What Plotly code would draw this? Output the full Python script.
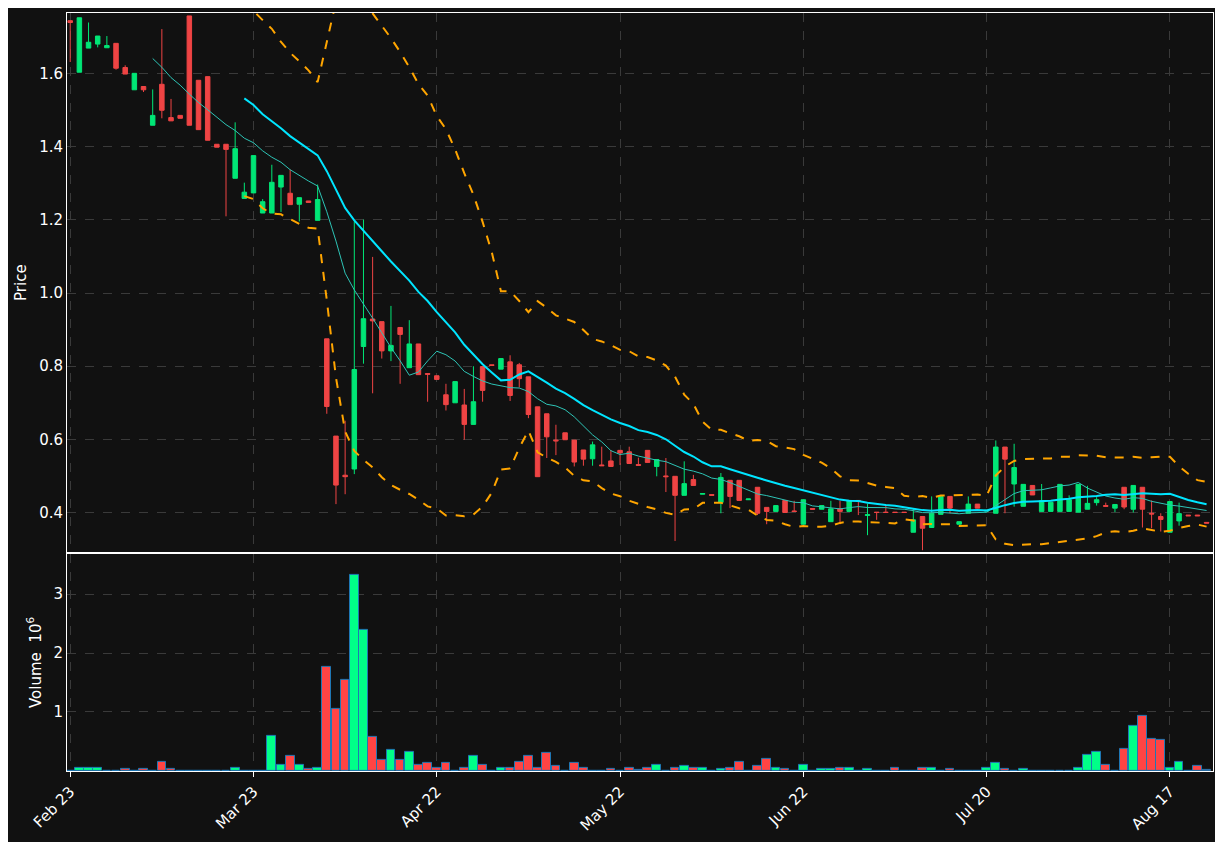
import pandas as pd
import plotly.graph_objects as go
from plotly.subplots import make_subplots

opens = [1.745, 1.604, 1.670, 1.681, 1.671, 1.683, 1.617, 1.556, 1.565, 1.459,
         1.571, 1.480, 1.486, 1.758, 1.582, 1.592, 1.407, 1.407, 1.314, 1.259,
         1.274, 1.219, 1.219, 1.290, 1.273, 1.243, 1.252, 1.199, 0.875, 0.609,
         0.502, 0.519, 0.854, 0.929, 0.922, 0.842, 0.906, 0.796, 0.861, 0.780,
         0.774, 0.722, 0.700, 0.694, 0.641, 0.799, 0.804, 0.792, 0.812, 0.804,
         0.771, 0.689, 0.670, 0.598, 0.618, 0.598, 0.571, 0.547, 0.530, 0.541,
         0.570, 0.566, 0.531, 0.570, 0.526, 0.500, 0.499, 0.447, 0.490, 0.450,
         0.449, 0.428, 0.488, 0.488, 0.435, 0.469, 0.414, 0.403, 0.433, 0.404,
         0.368, 0.411, 0.409, 0.375, 0.410, 0.403, 0.433, 0.392, 0.401, 0.401,
         0.401, 0.401, 0.346, 0.389, 0.359, 0.395, 0.444, 0.368, 0.398, 0.423,
         0.404, 0.398, 0.579, 0.478, 0.417, 0.474, 0.403, 0.403, 0.403, 0.403,
         0.401, 0.409, 0.427, 0.419, 0.412, 0.469, 0.409, 0.469, 0.398, 0.389,
         0.346, 0.377, 0.393, 0.393, 0.373]
highs = [1.745, 1.753, 1.740, 1.703, 1.703, 1.683, 1.623, 1.601, 1.565, 1.557,
         1.722, 1.531, 1.486, 1.758, 1.582, 1.592, 1.407, 1.407, 1.467, 1.302,
         1.376, 1.257, 1.351, 1.322, 1.338, 1.261, 1.252, 1.297, 0.875, 0.609,
         0.651, 1.196, 1.201, 1.099, 0.922, 0.965, 0.906, 0.926, 0.861, 0.780,
         0.774, 0.752, 0.758, 0.738, 0.800, 0.799, 0.804, 0.821, 0.830, 0.809,
         0.771, 0.689, 0.670, 0.640, 0.618, 0.598, 0.571, 0.594, 0.580, 0.571,
         0.570, 0.580, 0.550, 0.570, 0.545, 0.549, 0.499, 0.540, 0.503, 0.452,
         0.449, 0.508, 0.488, 0.488, 0.437, 0.469, 0.414, 0.419, 0.433, 0.432,
         0.435, 0.411, 0.419, 0.432, 0.432, 0.433, 0.433, 0.424, 0.401, 0.420,
         0.401, 0.401, 0.412, 0.389, 0.444, 0.444, 0.444, 0.375, 0.444, 0.423,
         0.406, 0.597, 0.579, 0.588, 0.477, 0.474, 0.478, 0.428, 0.477, 0.447,
         0.477, 0.473, 0.442, 0.427, 0.422, 0.469, 0.474, 0.469, 0.433, 0.398,
         0.430, 0.427, 0.393, 0.393, 0.373]
lows = [1.632, 1.604, 1.670, 1.672, 1.671, 1.611, 1.599, 1.556, 1.550, 1.459,
        1.478, 1.471, 1.478, 1.459, 1.447, 1.418, 1.399, 1.210, 1.314, 1.259,
        1.274, 1.219, 1.219, 1.222, 1.242, 1.196, 1.248, 1.199, 0.670, 0.423,
        0.450, 0.505, 0.807, 0.726, 0.821, 0.814, 0.752, 0.796, 0.777, 0.703,
        0.764, 0.679, 0.700, 0.599, 0.641, 0.703, 0.802, 0.792, 0.705, 0.742,
        0.658, 0.498, 0.549, 0.557, 0.599, 0.526, 0.528, 0.528, 0.528, 0.526,
        0.530, 0.534, 0.529, 0.537, 0.499, 0.456, 0.322, 0.447, 0.474, 0.450,
        0.447, 0.398, 0.412, 0.433, 0.435, 0.393, 0.368, 0.403, 0.400, 0.403,
        0.368, 0.409, 0.409, 0.375, 0.368, 0.403, 0.393, 0.338, 0.380, 0.400,
        0.400, 0.400, 0.346, 0.297, 0.359, 0.395, 0.398, 0.368, 0.398, 0.412,
        0.404, 0.398, 0.398, 0.416, 0.417, 0.448, 0.403, 0.403, 0.403, 0.403,
        0.401, 0.409, 0.419, 0.417, 0.401, 0.409, 0.400, 0.359, 0.357, 0.348,
        0.346, 0.364, 0.391, 0.391, 0.371]
closes = [1.740, 1.753, 1.686, 1.703, 1.677, 1.615, 1.599, 1.601, 1.556, 1.486,
          1.500, 1.471, 1.478, 1.459, 1.447, 1.418, 1.399, 1.393, 1.395, 1.276,
          1.376, 1.250, 1.303, 1.322, 1.242, 1.261, 1.248, 1.256, 0.690, 0.475,
          0.498, 0.791, 0.930, 0.924, 0.842, 0.857, 0.887, 0.861, 0.777, 0.778,
          0.764, 0.695, 0.758, 0.641, 0.703, 0.734, 0.802, 0.821, 0.720, 0.766,
          0.668, 0.498, 0.607, 0.596, 0.599, 0.538, 0.546, 0.585, 0.528, 0.526,
          0.563, 0.534, 0.529, 0.537, 0.545, 0.498, 0.447, 0.479, 0.474, 0.452,
          0.447, 0.496, 0.444, 0.433, 0.437, 0.398, 0.403, 0.419, 0.400, 0.403,
          0.435, 0.409, 0.419, 0.410, 0.403, 0.433, 0.431, 0.394, 0.400, 0.400,
          0.400, 0.400, 0.380, 0.357, 0.398, 0.444, 0.412, 0.375, 0.423, 0.412,
          0.406, 0.579, 0.546, 0.523, 0.477, 0.448, 0.432, 0.428, 0.477, 0.435,
          0.477, 0.425, 0.435, 0.417, 0.422, 0.415, 0.474, 0.409, 0.396, 0.381,
          0.430, 0.397, 0.391, 0.391, 0.371]
volumes = [0.005, 0.045, 0.045, 0.06, 0, 0, 0.03, 0.01, 0.03, 0.01,
           0.147, 0.03, 0, 0, 0.01, 0, 0, 0.01, 0.045, 0.01,
           0, 0, 0.59, 0.11, 0.25, 0.10, 0.03, 0.045, 1.77, 1.06,
           1.55, 3.33, 2.40, 0.57, 0.18, 0.35, 0.18, 0.33, 0.11, 0.13,
           0.045, 0.13, 0, 0.045, 0.25, 0.10, 0, 0.045, 0.045, 0.147,
           0.25, 0.045, 0.30, 0.08, 0, 0.13, 0.045, 0, 0, 0.03,
           0.01, 0.045, 0.02, 0.06, 0.11, 0.01, 0.045, 0.08, 0.045, 0.045,
           0.01, 0.03, 0.06, 0.16, 0, 0.08, 0.20, 0.06, 0.03, 0.01,
           0.11, 0, 0.03, 0.03, 0.06, 0.045, 0.01, 0.03, 0, 0.01,
           0.045, 0, 0.01, 0.06, 0.06, 0.01, 0.03, 0, 0, 0.01,
           0.045, 0.13, 0.03, 0.01, 0.03, 0, 0.01, 0, 0, 0.01,
           0.06, 0.27, 0.33, 0.11, 0, 0.37, 0.76, 0.94, 0.54, 0.52,
           0.045, 0.16, 0, 0.08, 0.02]
tick_labels = ["Feb 23", "Mar 23", "Apr 22", "May 22", "Jun 22", "Jul 20", "Aug 17"]

df = pd.DataFrame({"o": opens, "h": highs, "l": lows, "c": closes, "v": volumes})
x = list(range(len(df)))
ma10 = df.c.rolling(10).mean()
ma20 = df.c.rolling(20).mean()
sd20 = df.c.rolling(20).std()
upper = ma20 + 2 * sd20
lower = ma20 - 2 * sd20

UP, DOWN = "#00e676", "#ef4444"
vol_colors = ["#00ff88" if c >= o else "#ff4444" for o, c in zip(df.o, df.c)]

fig = make_subplots(rows=2, cols=1, shared_xaxes=True, vertical_spacing=0.002,
                    row_heights=[0.713, 0.287])
fig.add_trace(go.Candlestick(x=x, open=df.o, high=df.h, low=df.l, close=df.c,
                             increasing=dict(line=dict(color=UP, width=1), fillcolor=UP),
                             decreasing=dict(line=dict(color=DOWN, width=1), fillcolor=DOWN),
                             showlegend=False), row=1, col=1)
fig.add_trace(go.Scatter(x=x, y=ma10, mode="lines", line=dict(color="#2ec4b6", width=1),
                         showlegend=False), row=1, col=1)
fig.add_trace(go.Scatter(x=x, y=ma20, mode="lines", line=dict(color="#00e5ff", width=2),
                         showlegend=False), row=1, col=1)
for band in (upper, lower):
    fig.add_trace(go.Scatter(x=x, y=band, mode="lines",
                             line=dict(color="#ffa500", width=2, dash="dash"),
                             showlegend=False), row=1, col=1)
fig.add_trace(go.Bar(x=x, y=df.v, marker=dict(color=vol_colors, line=dict(color="#1f77b4", width=1)),
                     width=0.95, showlegend=False), row=2, col=1)

grid = dict(showgrid=True, gridcolor="#3a3a3a", griddash="dash", gridwidth=1,
            showline=True, linecolor="white", linewidth=1, mirror=True, automargin=False,
            color="white", tickfont=dict(size=15), zeroline=False)
fig.update_xaxes(**grid, range=[-0.35, 124.7], tickvals=list(range(0, 121, 20)),
                 ticktext=tick_labels, ticks="outside", tickcolor="white", ticklen=5)
fig.update_xaxes(rangeslider_visible=False, showticklabels=False, row=1, col=1)
fig.update_xaxes(tickangle=-45, row=2, col=1)
fig.update_yaxes(**grid)
fig.update_yaxes(range=[0.291, 1.766], tickvals=[0.4, 0.6, 0.8, 1.0, 1.2, 1.4, 1.6],
                 tickformat=".1f", title=dict(text="Price", font=dict(size=15), standoff=8),
                 row=1, col=1)
fig.update_yaxes(range=[0, 3.68], tickvals=[1, 2, 3],
                 title=dict(text="Volume  10<sup>6</sup>", font=dict(size=15), standoff=8),
                 row=2, col=1)
# page body adds an 8px offset, so the layout is shifted to keep the plot box in place
fig.update_layout(width=1215, height=835, paper_bgcolor="#111111", plot_bgcolor="#111111",
                  margin=dict(l=59, r=10, t=5, b=72), bargap=0,
                  font=dict(family="DejaVu Sans", color="white"))
fig.write_html("out.html")
